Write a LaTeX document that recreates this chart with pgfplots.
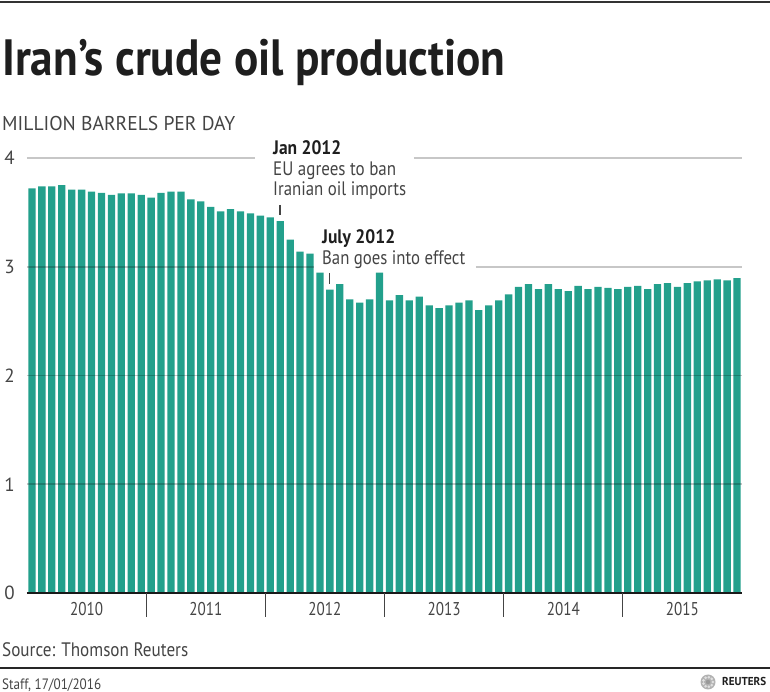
\documentclass[border=0pt]{standalone}
\usepackage{fontspec}
\setmainfont{PT Sans}
\usepackage{graphicx}
\usepackage{pgfplots}
\pgfplotsset{compat=1.18}
\definecolor{barc}{HTML}{23A08C}
\definecolor{txt}{HTML}{444444}
\definecolor{ttl}{HTML}{1E1E1E}
\newcommand\fs[1]{\fontsize{#1}{#1}\selectfont}
\newcommand\rb[2]{\resizebox{#1}{\height}{#2}}
\begin{document}
\begin{tikzpicture}
\path[use as bounding box] (-27pt,-99pt) rectangle (743pt,593pt);
\begin{axis}[at={(0pt,0pt)}, anchor=south west, scale only axis,
  width=715pt, height=435pt,
  xmin=0.5, xmax=72.5, ymin=0, ymax=4,
  axis line style={draw=none}, major tick length=0pt,
  ytick={0,1,2,3,4},
  /pgf/number format/assume math mode=true,
  yticklabel style={anchor=east, inner sep=0pt, xshift=-12pt, font=\fs{19}, text=txt},
  xtick={6.5,18.5,30.5,42.5,54.5,66.5},
  xticklabels={\rb{33pt}{2010},\rb{33pt}{2011},\rb{33pt}{2012},\rb{33pt}{2013},\rb{33pt}{2014},\rb{33pt}{2015}},
  xticklabel style={anchor=base, inner sep=0pt, yshift=-23pt, font=\fs{18.5}, text=txt},
  clip=false,
]
\addplot[ybar, bar width=7.3pt, fill=barc, draw=none] coordinates {
(1,3.72) (2,3.74) (3,3.74) (4,3.75) (5,3.71) (6,3.71) (7,3.69) (8,3.68) (9,3.66) (10,3.675) (11,3.675) (12,3.66)
(13,3.635) (14,3.68) (15,3.69) (16,3.69) (17,3.62) (18,3.60) (19,3.55) (20,3.51) (21,3.53) (22,3.51) (23,3.49) (24,3.47)
(25,3.455) (26,3.42) (27,3.25) (28,3.14) (29,3.12) (30,2.945) (31,2.79) (32,2.84) (33,2.70) (34,2.67) (35,2.70) (36,2.945)
(37,2.69) (38,2.74) (39,2.69) (40,2.725) (41,2.645) (42,2.62) (43,2.645) (44,2.67) (45,2.69) (46,2.60) (47,2.645) (48,2.69)
(49,2.745) (50,2.815) (51,2.84) (52,2.795) (53,2.84) (54,2.795) (55,2.775) (56,2.825) (57,2.795) (58,2.815) (59,2.805) (60,2.795)
(61,2.815) (62,2.825) (63,2.795) (64,2.84) (65,2.85) (66,2.815) (67,2.85) (68,2.865) (69,2.875) (70,2.885) (71,2.875) (72,2.895)
};
% grid lines
\draw[black, opacity=0.22, line width=1.8pt] (axis cs:0.5,1) -- (axis cs:72.5,1);
\draw[black, opacity=0.22, line width=1.8pt] (axis cs:0.5,2) -- (axis cs:72.5,2);
\draw[black, opacity=0.22, line width=1.8pt] (axis cs:0.5,3) -- (axis cs:29.4,3);
\draw[black, opacity=0.22, line width=1.8pt] (axis cs:45.7,3) -- (axis cs:72.5,3);
\draw[black, opacity=0.22, line width=1.8pt] (axis cs:0.5,4) -- (axis cs:23.46,4);
\draw[black, opacity=0.22, line width=1.8pt] (axis cs:39.47,4) -- (axis cs:72.5,4);
% axis line and year separators
\draw[black!90, line width=2.2pt] (axis cs:0.5,0) -- (axis cs:72.5,0);
\draw[txt, line width=1.3pt] (axis cs:12.5,0) -- ++(0pt,-24pt);
\draw[txt, line width=1.3pt] (axis cs:24.5,0) -- ++(0pt,-24pt);
\draw[txt, line width=1.3pt] (axis cs:36.5,0) -- ++(0pt,-24pt);
\draw[txt, line width=1.3pt] (axis cs:48.5,0) -- ++(0pt,-24pt);
\draw[txt, line width=1.3pt] (axis cs:60.5,0) -- ++(0pt,-24pt);
% annotation ticks
\draw[txt, line width=1.1pt] (axis cs:25.98,3.568) -- (axis cs:25.98,3.476);
\draw[txt, line width=1.1pt] (axis cs:31.0,2.943) -- (axis cs:31.0,2.841);
\end{axis}
% top rule
\draw[black!80, line width=2.4pt] (-27pt,591pt) -- (743pt,591pt);
% title
\node[anchor=base west, inner sep=0pt, text=ttl, font=\fs{51}\bfseries] at (-25pt,517pt) {\rb{503pt}{Iran’s crude oil production}};
\node[anchor=base west, inner sep=0pt, text=txt, font=\fs{20}] at (-25pt,462pt) {\rb{233pt}{MILLION BARRELS PER DAY}};
% annotations
\node[anchor=base west, inner sep=0pt, text=ttl, font=\fs{19.5}\bfseries] at (246pt,438pt) {\rb{68pt}{Jan 2012}};
\node[anchor=base west, inner sep=0pt, text=txt, font=\fs{19.5}] at (246pt,417pt) {\rb{123pt}{EU agrees to ban}};
\node[anchor=base west, inner sep=0pt, text=txt, font=\fs{19.5}] at (246pt,397pt) {\rb{133pt}{Iranian oil imports}};
\node[anchor=base west, inner sep=0pt, text=ttl, font=\fs{19.5}\bfseries] at (295pt,349pt) {\rb{73pt}{July 2012}};
\node[anchor=base west, inner sep=0pt, text=txt, font=\fs{19.5}] at (295pt,328pt) {\rb{143pt}{Ban goes into effect}};
% source and footer
\node[anchor=base west, inner sep=0pt, text=txt, font=\fs{19.5}] at (-25pt,-64pt) {\rb{186pt}{Source: Thomson Reuters}};
\draw[black!85, line width=2.2pt] (-27pt,-75pt) -- (743pt,-75pt);
\node[anchor=base west, inner sep=0pt, text=txt, font=\fs{15}] at (-25pt,-96pt) {\rb{99pt}{Staff, 17/01/2016}};
\fill[gray!60] (681pt,-89pt) circle (7.5pt);
\foreach \a in {0,40,...,320}{
  \fill[gray!25] ([shift={(\a:4.8pt)}]681pt,-89pt) circle (1.5pt);
}
\fill[gray!80] (681pt,-89pt) circle (2.2pt);
\node[anchor=base west, inner sep=0pt, text=ttl, font=\fs{11.5}\bfseries] at (695pt,-93pt) {\rb{44pt}{REUTERS}};
\end{tikzpicture}
\end{document}
